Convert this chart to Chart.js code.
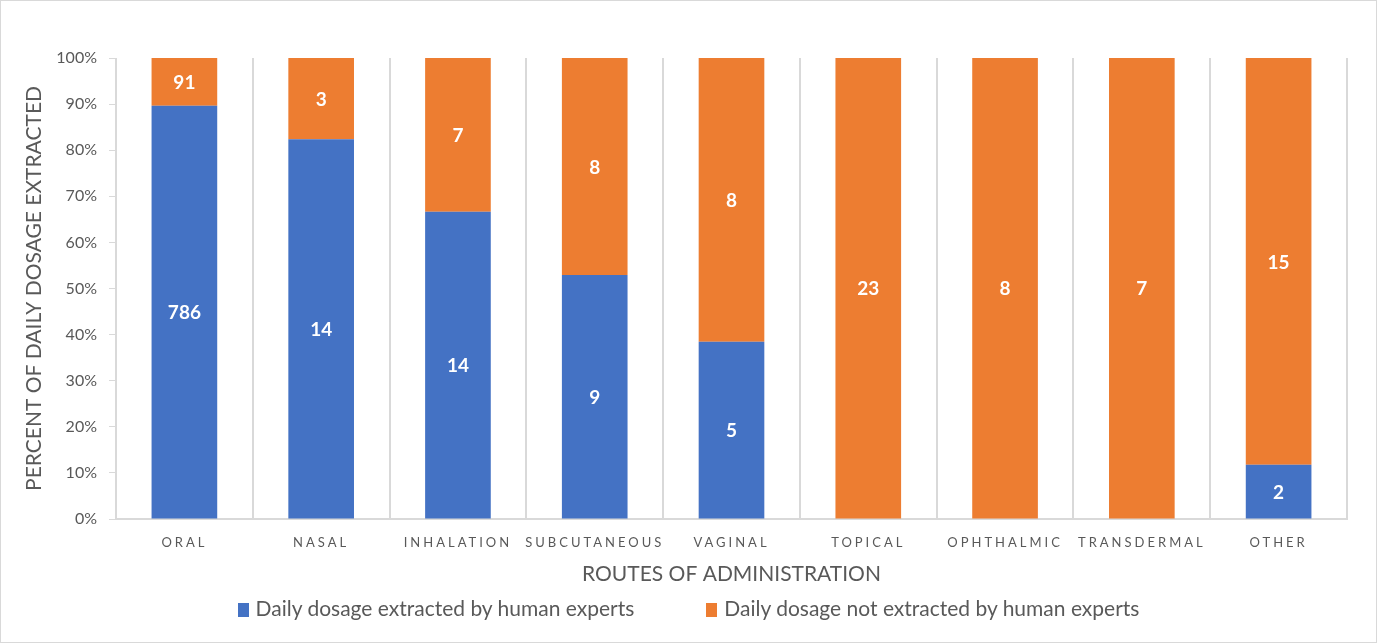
<!DOCTYPE html>
<html>
<head>
<meta charset="utf-8">
<script src="https://cdn.jsdelivr.net/npm/chart.js@4.4.1/dist/chart.umd.min.js"></script>
<style>
	html, body { margin: 0; padding: 0; background: #fff; }
	#wrap { position: relative; width: 1377px; height: 643px; box-sizing: border-box; border: 1px solid #d9d9d9; }
	#legend { position: absolute; left: 0; right: 0; top: 594px; text-align: center; font-family: Lato, sans-serif; font-size: 21px; color: #595959; white-space: nowrap; }
	#legend span.item { display: inline-block; margin: 0 36px; }
	#legend span.box { display: inline-block; width: 11px; height: 14px; margin-right: 7px; vertical-align: -1px; }
</style>
</head>
<body>
<div id="wrap">
	<canvas id="chart" width="1375" height="641"></canvas>
	<div id="legend"></div>
</div>
<script>
const routes = ['ORAL', 'NASAL', 'INHALATION', 'SUBCUTANEOUS', 'VAGINAL', 'TOPICAL', 'OPHTHALMIC', 'TRANSDERMAL', 'OTHER']
const extracted = [786, 14, 14, 9, 5, 0, 0, 0, 2]
const notExtracted = [91, 3, 7, 8, 8, 23, 8, 7, 15]
const yTicks = [0, 10, 20, 30, 40, 50, 60, 70, 80, 90, 100]

const totals = routes.map((r, i) => extracted[i] + notExtracted[i])
const pct = (arr) => arr.map((v, i) => (v / totals[i]) * 100)

// category axis with spaced-out letters, like the original
class SpacedCategory extends Chart.CategoryScale {
	drawLabels(chartArea) {
		this.ctx.save()
		this.ctx.letterSpacing = '3px'
		super.drawLabels(chartArea)
		this.ctx.restore()
	}
}
SpacedCategory.id = 'spacedCategory'
SpacedCategory.defaults = Chart.CategoryScale.defaults
Chart.register(SpacedCategory)

const countLabels = {
	id: 'countLabels',
	afterDatasetsDraw(chart) {
		const ctx = chart.ctx
		ctx.save()
		ctx.fillStyle = '#fff'
		ctx.font = 'bold 19px Lato, sans-serif'
		ctx.textAlign = 'center'
		ctx.textBaseline = 'middle'
		chart.data.datasets.forEach((ds, di) => {
			chart.getDatasetMeta(di).data.forEach((bar, i) => {
				const n = ds.counts[i]
				if (!n) return
				const mid = (bar.y + bar.base) / 2
				ctx.fillText(String(n), bar.x, mid + 1)
			})
		})
		ctx.restore()
	},
}

const ctx = document.getElementById('chart').getContext('2d')
const chart = new Chart(ctx, {
	type: 'bar',
	data: {
		labels: routes,
		datasets: [
			{
				label: 'Daily dosage extracted by human experts',
				data: pct(extracted),
				counts: extracted,
				backgroundColor: '#4472C4',
				categoryPercentage: 1,
				barPercentage: 0.48,
			},
			{
				label: 'Daily dosage not extracted by human experts',
				data: pct(notExtracted),
				counts: notExtracted,
				backgroundColor: '#ED7D31',
				categoryPercentage: 1,
				barPercentage: 0.48,
			},
		],
	},
	options: {
		responsive: false,
		animation: false,
		layout: { padding: { left: 21, right: 29, top: 57, bottom: 55 } },
		plugins: {
			legend: { display: false },
			tooltip: { enabled: false },
		},
		scales: {
			x: {
				type: 'spacedCategory',
				stacked: true,
				afterFit: (scale) => { scale.height = 68 },
				grid: { color: '#d9d9d9', lineWidth: 2, drawTicks: false },
				border: { color: '#d9d9d9', width: 2 },
				ticks: { color: '#595959', font: { family: 'Lato', size: 13 }, padding: 16, maxRotation: 0 },
				title: { display: true, text: 'ROUTES OF ADMINISTRATION', color: '#595959', font: { family: 'Lato', size: 21 }, padding: 0 },
			},
			y: {
				stacked: true,
				min: 0,
				max: 100,
				afterFit: (scale) => { scale.width = 94 },
				afterBuildTicks: (axis) => { axis.ticks = yTicks.map((v) => ({ value: v })) },
				grid: { drawOnChartArea: false, color: '#d9d9d9', tickLength: 7 },
				border: { color: '#d9d9d9' },
				ticks: { color: '#595959', font: { family: 'Lato', size: 16 }, padding: 12, callback: (v) => v + '%' },
				title: { display: true, text: 'PERCENT OF DAILY DOSAGE EXTRACTED', color: '#595959', font: { family: 'Lato', size: 21 }, padding: 0 },
			},
		},
	},
	plugins: [countLabels],
})

const legend = document.getElementById('legend')
chart.data.datasets.forEach((ds) => {
	const item = document.createElement('span')
	item.className = 'item'
	item.innerHTML = '<span class="box" style="background:' + ds.backgroundColor + '"></span>' + ds.label
	legend.appendChild(item)
})
</script>
</body>
</html>
